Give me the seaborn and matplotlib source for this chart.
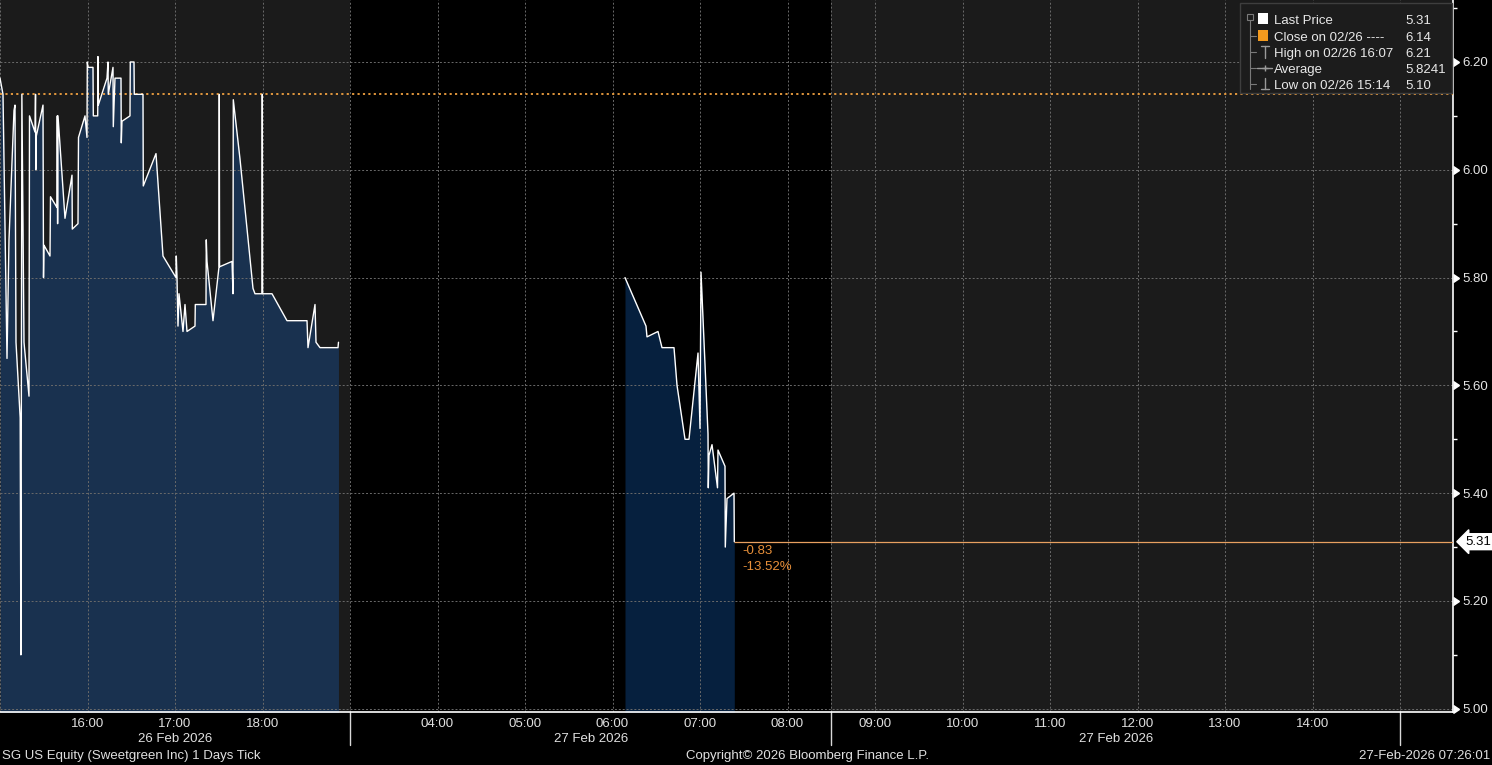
import matplotlib
matplotlib.use("Agg")
import numpy as np
import pandas as pd
import matplotlib.pyplot as plt
import seaborn as sns
from matplotlib import markers
from matplotlib.patches import Rectangle
from matplotlib.transforms import blended_transform_factory

# ---------------- data ----------------
day1_times = ["15:00:00", "15:02:03", "15:04:48", "15:06:10", "15:09:36", "15:10:17", "15:10:58",
              "15:13:50", "15:14:20", "15:15:00", "15:16:27", "15:19:53", "15:20:14", "15:24:00",
              "15:24:21", "15:24:33", "15:24:41", "15:29:29", "15:29:50", "15:30:10", "15:34:17",
              "15:34:38", "15:39:05", "15:39:17", "15:39:30", "15:39:46", "15:44:34", "15:49:22",
              "15:49:35", "15:53:29", "15:53:50", "15:58:17", "15:59:39", "15:59:52", "16:00:21",
              "16:03:46", "16:03:59", "16:07:00", "16:07:10", "16:07:25", "16:13:22", "16:14:03",
              "16:14:15", "16:17:29", "16:17:41", "16:18:51", "16:22:58", "16:23:10", "16:23:39",
              "16:29:08", "16:29:20", "16:31:53", "16:32:05", "16:38:03", "16:38:15", "16:46:58",
              "16:51:46", "17:00:41", "17:00:53", "17:01:22", "17:02:03", "17:02:44", "17:05:29",
              "17:06:51", "17:08:14", "17:13:43", "17:13:55", "17:21:15", "17:21:27", "17:21:56",
              "17:26:03", "17:30:10", "17:30:22", "17:30:34", "17:39:05", "17:39:46", "17:39:58",
              "17:44:34", "17:53:29", "17:54:51", "17:59:39", "17:59:51", "18:00:03", "18:06:31",
              "18:16:48", "18:30:31", "18:31:12", "18:36:00", "18:36:41", "18:39:26", "18:51:46",
              "18:52:06"]
day1_prices = [6.17, 6.14, 5.65, 5.87, 6.11, 6.12, 5.68,
               5.54, 5.10, 6.14, 5.68, 5.58, 6.10, 6.07,
               6.14, 6.00, 6.06, 6.12, 5.80, 5.86, 5.84,
               5.95, 5.93, 6.10, 5.90, 6.10, 5.91, 5.99,
               5.89, 5.90, 6.06, 6.10, 6.06, 6.20, 6.19,
               6.19, 6.10, 6.10, 6.21, 6.12, 6.17, 6.20,
               6.14, 6.19, 6.08, 6.17, 6.17, 6.05, 6.09,
               6.10, 6.20, 6.20, 6.14, 6.14, 5.97, 6.03,
               5.84, 5.80, 5.84, 5.80, 5.71, 5.77, 5.70,
               5.75, 5.70, 5.71, 5.75, 5.75, 5.87, 5.83,
               5.72, 5.82, 6.14, 5.82, 5.83, 5.77, 6.13,
               6.02, 5.78, 5.77, 5.77, 6.14, 5.77, 5.77,
               5.72, 5.72, 5.67, 5.75, 5.68, 5.67, 5.67,
               5.68]

day2_times = ["06:08:34", "06:22:58", "06:23:39", "06:31:12", "06:33:56", "06:42:10", "06:44:14",
              "06:49:43", "06:52:27", "06:58:38", "07:00:00", "07:00:41", "07:05:29", "07:05:41",
              "07:06:10", "07:08:14", "07:12:00", "07:12:20", "07:17:08", "07:17:20", "07:18:31",
              "07:23:19", "07:23:31"]
day2_prices = [5.80, 5.71, 5.69, 5.70, 5.67, 5.67, 5.60,
               5.50, 5.50, 5.66, 5.52, 5.81, 5.51, 5.41,
               5.47, 5.49, 5.41, 5.48, 5.45, 5.30, 5.39,
               5.40, 5.31]

close_price = 6.14
last_price = 5.31
high_price, high_when = 6.21, "02/26 16:07"
low_price, low_when = 5.10, "02/26 15:14"
avg_price = "5.8241"

day1_hour_labels = ["16:00", "17:00", "18:00"]
day2_hour_labels = ["04:00", "05:00", "06:00", "07:00", "08:00", "09:00", "10:00",
                    "11:00", "12:00", "13:00", "14:00"]
y_tick_values = [5.00, 5.20, 5.40, 5.60, 5.80, 6.00, 6.20]
date_labels = ["26 Feb 2026", "27 Feb 2026", "27 Feb 2026"]

# sessions on the compressed time axis
day1_window = ("15:00", "19:00")
day2_pre_window = ("03:00", "08:30")
day2_reg_window = ("08:30", "15:00")
view_end = "15:36:20"


def hrs(s):
    parts = [float(p) for p in s.split(":")]
    while len(parts) < 3:
        parts.append(0.0)
    return parts[0] + parts[1] / 60 + parts[2] / 3600


def pos(day, s):
    if day == 1:
        return hrs(s) - hrs(day1_window[0])
    span1 = hrs(day1_window[1]) - hrs(day1_window[0])
    return span1 + hrs(s) - hrs(day2_pre_window[0])


df = pd.concat([
    pd.DataFrame({"t": [pos(1, s) for s in day1_times], "price": day1_prices, "session": "d1"}),
    pd.DataFrame({"t": [pos(2, s) for s in day2_times], "price": day2_prices, "session": "d2"}),
], ignore_index=True)

# ---------------- figure ----------------
W, H = 1492, 765
sns.set_theme(style="dark")
plt.rcParams["font.family"] = ["Liberation Sans", "DejaVu Sans"]
fig = plt.figure(figsize=(W / 100, H / 100), dpi=100, facecolor="black")
ax_h = 712
ax = fig.add_axes([0, (H - ax_h) / H, 1453 / W, ax_h / H])
ax.set_facecolor("black")

x0 = 0.0
x1 = pos(2, view_end)
ax.set_xlim(x0, x1)
ax.set_ylim(4.994, 6.315)

gray_bg = "#1b1b1b"
ax.axvspan(pos(1, day1_window[0]), pos(1, day1_window[1]), color=gray_bg, lw=0, zorder=0)
ax.axvspan(pos(2, day2_reg_window[0]), x1, color=gray_bg, lw=0, zorder=0)

fill_cols = {"d1": "#19314f", "d2": "#06203e"}
for sess, g in df.groupby("session"):
    ax.fill_between(g["t"], g["price"], 4.9, color=fill_cols[sess], lw=0, zorder=1)

# grid
grid_kw = dict(color="#6a6a6a", lw=0.7, ls=(0, (2, 2)), zorder=2)
for yv in y_tick_values:
    ax.axhline(yv, **grid_kw)
vgrid = [pos(1, f"{h}:00") for h in range(15, 19)] + [pos(2, f"{h}:00") for h in range(3, 16)] \
        + [pos(2, day2_reg_window[0])]
for xv in vgrid:
    ax.axvline(xv, **grid_kw)

# close line (dotted) and last price line
ax.axhline(close_price, color="#f0a040", lw=1.3, ls=(0, (1.2, 1.8)), zorder=3)
last_t = df["t"].iloc[-1]
ax.hlines(last_price, last_t, x1, color="#e8a060", lw=0.9, zorder=3)

sns.lineplot(data=df, x="t", y="price", units="session", estimator=None, sort=False,
             color="white", lw=1.0, ax=ax, legend=False, zorder=4)

chg = last_price - close_price
ax.annotate(f"{chg:.2f}", xy=(last_t, last_price), xytext=(8, -9), textcoords="offset pixels",
            color="#e8903a", fontsize=9.5, va="center", ha="left")
ax.annotate(f"{chg / close_price * 100:.2f}%", xy=(last_t, last_price), xytext=(8, -25),
            textcoords="offset pixels", color="#e8903a", fontsize=9.5, va="center", ha="left")

# axes styling
for s in ["left", "top"]:
    ax.spines[s].set_visible(False)
for s in ["bottom", "right"]:
    ax.spines[s].set_visible(True)
    ax.spines[s].set_color("white")
    ax.spines[s].set_linewidth(1.2)
ax.set_xlabel("")
ax.set_ylabel("")

xt = [pos(1, s) for s in day1_hour_labels] + [pos(2, s) for s in day2_hour_labels]
ax.set_xticks(xt)
ax.set_xticklabels(day1_hour_labels + day2_hour_labels)
minor_x = [pos(1, f"{h}:30") for h in range(15, 19)] + [pos(2, f"{h}:30") for h in range(3, 16)]
ax.set_xticks(minor_x, minor=True)
ax.tick_params(axis="x", which="major", length=0, pad=4, labelsize=9.5, colors="#e0e0e0")
ax.tick_params(axis="x", which="minor", length=4, width=1, color="white", direction="out")

ax.yaxis.tick_right()
ax.set_yticks(y_tick_values)
ax.set_yticklabels([f"{v:.2f}" for v in y_tick_values])
ax.set_yticks(np.round(np.arange(5.1, 6.35, 0.2), 2), minor=True)
ax.tick_params(axis="y", which="major", length=7, width=1, color="white", pad=0,
               labelsize=9.5, labelcolor="#e6e6e6", right=True, left=False)
ax.tick_params(axis="y", which="minor", length=3, width=1, color="white", right=True, left=False)
for tk in ax.yaxis.get_major_ticks():
    tk.tick2line.set_marker(markers.CARETRIGHTBASE)
    tk.tick2line.set_markersize(6)

# last price box on right axis
tr = blended_transform_factory(ax.transAxes, ax.transData)
ax.text(1.0085, last_price, f"{last_price:.2f}", transform=tr, color="black", fontsize=9.5,
        va="center", ha="left", clip_on=False, zorder=6,
        bbox=dict(boxstyle="larrow,pad=0.15", fc="white", ec="white"))

# session separators below the axis and date labels
trx = blended_transform_factory(ax.transData, ax.transAxes)
for sx in [pos(1, day1_window[1]), pos(2, day2_reg_window[0]), pos(2, day2_reg_window[1])]:
    ax.plot([sx, sx], [0, -33 / ax_h], transform=trx, color="#d8d8d8", lw=1, clip_on=False)
centers = [(pos(1, day1_window[0]) + pos(1, day1_window[1])) / 2,
           (pos(2, day2_pre_window[0]) + pos(2, day2_pre_window[1])) / 2,
           (pos(2, day2_reg_window[0]) + pos(2, day2_reg_window[1])) / 2]
for c, lab in zip(centers, date_labels):
    ax.annotate(lab, xy=(c, 0), xycoords=trx, xytext=(0, -27), textcoords="offset pixels",
                ha="center", va="center", color="#e0e0e0", fontsize=9.5, annotation_clip=False)

# footer
fy = 1 - 756 / H
fig.text(2 / W, fy, "SG US Equity (Sweetgreen Inc) 1 Days Tick", color="#e0e0e0", fontsize=9.5,
         ha="left", va="center")
fig.text(808 / W, fy, "Copyright\u00a9 2026 Bloomberg Finance L.P.", color="#e0e0e0", fontsize=9.5,
         ha="center", va="center")
fig.text(1490 / W, fy, "27-Feb-2026 07:26:01", color="#e0e0e0", fontsize=9.5, ha="right", va="center")

# legend panel (pixel overlay)
ov = fig.add_axes([0, 0, 1, 1], zorder=10)
ov.set_xlim(0, W)
ov.set_ylim(H, 0)
ov.axis("off")
ov.patch.set_alpha(0)
ov.add_patch(Rectangle((1240, 3), 212, 90, fc="#1c1c1c", ec="#3e3e3e", lw=1))
rows = [19, 36, 52, 68, 84]
tree_c = "#7a7a7a"
ov.add_patch(Rectangle((1247, 14), 6, 6, fc="none", ec=tree_c, lw=0.8))
ov.plot([1250, 1250], [20, 89], color=tree_c, lw=0.8)
for ry in rows[1:]:
    ov.plot([1250, 1256], [ry, ry], color=tree_c, lw=0.8)
ov.add_patch(Rectangle((1258, 13), 10, 11, fc="white", ec="none"))
ov.add_patch(Rectangle((1258, 30), 10, 11, fc="#f39a1e", ec="none"))
ic = "#9a9a9a"
ov.plot([1261, 1269], [46, 46], color=ic, lw=1)
ov.plot([1265, 1265], [46, 58], color=ic, lw=1)
ov.plot([1257, 1272], [68, 68], color=ic, lw=1)
ov.plot([1265], [68], marker="+", color=ic, ms=5)
ov.plot([1265, 1265], [78, 89], color=ic, lw=1)
ov.plot([1261, 1269], [89, 89], color=ic, lw=1)
legend_labels = ["Last Price", "Close on 02/26 ---- ", f"High on {high_when}", "Average",
                 f"Low on {low_when}"]
legend_values = [f"{last_price:.2f}", f"{close_price:.2f}", f"{high_price:.2f}", avg_price,
                 f"{low_price:.2f}"]
for ry, lab, val in zip(rows, legend_labels, legend_values):
    ov.text(1274, ry, lab, color="#e8e8e8", fontsize=9.5, va="center_baseline", ha="left")
    ov.text(1405, ry, val, color="#e8e8e8", fontsize=9.5, va="center_baseline", ha="left")

fig.savefig("out.png", dpi=100, facecolor="black")
